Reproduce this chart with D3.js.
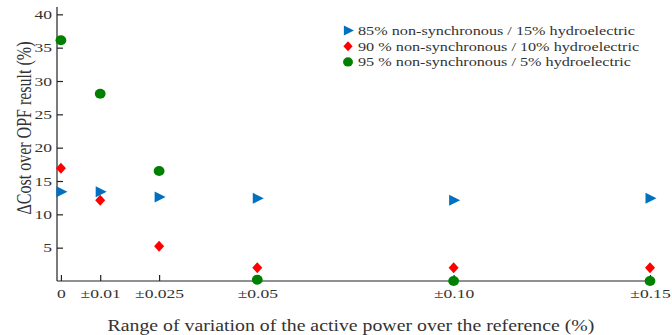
<!DOCTYPE html>
<html>
<head>
<script src="https://d3js.org/d3.v7.min.js"></script>
<style>
  body { margin: 0; background: #fff; }
  svg text { font-family: "Liberation Serif", "Times New Roman", serif; fill: #333; }
</style>
</head>
<body>
<svg id="chart" width="672" height="335" font-family="Liberation Serif, serif"></svg>
<script>

var ranges = [0, 0.01, 0.025, 0.05, 0.10, 0.15];
var tickLabels = ["0", "\u00b10.01", "\u00b10.025", "\u00b10.05", "\u00b10.10", "\u00b10.15"];
var hydro15 = [13.4, 13.4, 12.6, 12.4, 12.1, 12.4];
var hydro10 = [16.9, 12.1, 5.2, 2.0, 2.0, 2.0];
var hydro5 = [36.1, 28.1, 16.5, 0.2, 0.0, 0.0];
var yTicks = [5, 10, 15, 20, 25, 30, 35, 40];

var series = [
  { name: "85% non-synchronous / 15% hydroelectric", values: hydro15, color: "#0070c0", shape: "tri" },
  { name: "90 % non-synchronous / 10% hydroelectric", values: hydro10, color: "#ff0000", shape: "dia" },
  { name: "95 % non-synchronous / 5% hydroelectric", values: hydro5, color: "#008000", shape: "dot" }
];

// the original figure is a bit wider than tall, text looks stretched sideways
var SX = 1.3;

var svg = d3.select("#chart");

var x = d3.scaleLinear().domain([-0.001, 0.15]).range([57, 650]);
var y = d3.scaleLinear().domain([0, 41.1]).range([281, 7]);

// axes
var xAxis = svg.append("g")
  .attr("transform", "translate(0," + y(0) + ")")
  .call(d3.axisBottom(x).tickValues(ranges).tickSize(-6).tickPadding(7)
    .tickFormat(function(d, i) { return tickLabels[i]; }));

var yAxis = svg.append("g")
  .attr("transform", "translate(" + x.range()[0] + ",0)")
  .call(d3.axisLeft(y).tickValues(yTicks).tickSize(-6).tickPadding(5));

[xAxis, yAxis].forEach(function(a) {
  a.attr("font-family", null);
  a.select(".domain").attr("stroke", "#222").attr("stroke-width", 1.2);
  a.selectAll(".tick line").attr("stroke", "#222").attr("stroke-width", 1.2);
  a.selectAll(".tick text")
    .style("font-size", "13.5px")
    .attr("fill", "#333")
    .attr("transform", function() {
      var ox = +d3.select(this).attr("x") || 0;
      return "translate(" + ox + ",0) scale(" + SX + ",1) translate(" + (-ox) + ",0)";
    });
});
// plain axis lines, no outer ticks
xAxis.select(".domain").attr("d", "M" + x.range()[0] + ",0H" + x.range()[1]);
yAxis.select(".domain").attr("d", "M0," + y.range()[0] + "V" + y.range()[1]);

// markers
function drawMarker(g, shape, color) {
  if (shape === "tri") {
    g.append("path").attr("d", "M-4.5,-5.5L6.5,0L-4.5,5.5Z").attr("fill", color);
  } else if (shape === "dia") {
    g.append("path").attr("d", "M0,-5.5L5,0L0,5.5L-5,0Z").attr("fill", color);
  } else {
    g.append("ellipse").attr("rx", 5.4).attr("ry", 5).attr("fill", color);
  }
}

series.forEach(function(s) {
  svg.append("g").selectAll("g")
    .data(s.values)
    .enter()
    .append("g")
    .attr("transform", function(d, i) {
      return "translate(" + x(ranges[i]) + "," + y(d) + ")";
    })
    .each(function() { drawMarker(d3.select(this), s.shape, s.color); });
});

// legend
var legend = svg.append("g").attr("transform", "translate(348,0)");
series.forEach(function(s, i) {
  var row = legend.append("g").attr("transform", "translate(0," + (30.5 + i * 15.7) + ")");
  var m = row.append("g").attr("transform", "scale(0.92)");
  drawMarker(m, s.shape, s.color);
  row.append("text")
    .attr("x", 0)
    .attr("y", 4.5)
    .attr("transform", "translate(10,0) scale(1.2,1)")
    .style("font-size", "13.5px")
    .text(s.name);
});

// axis titles
svg.append("text")
  .attr("transform", "translate(351,331) scale(1.2,1)")
  .attr("text-anchor", "middle")
  .style("font-size", "16.5px")
  .text("Range of variation of the active power over the reference (%)");

svg.append("text")
  .attr("transform", "translate(31,128) scale(1.25,1) rotate(-90)")
  .attr("text-anchor", "middle")
  .style("font-size", "16px")
  .text("\u0394Cost over OPF result (%)");

</script>
</body>
</html>
